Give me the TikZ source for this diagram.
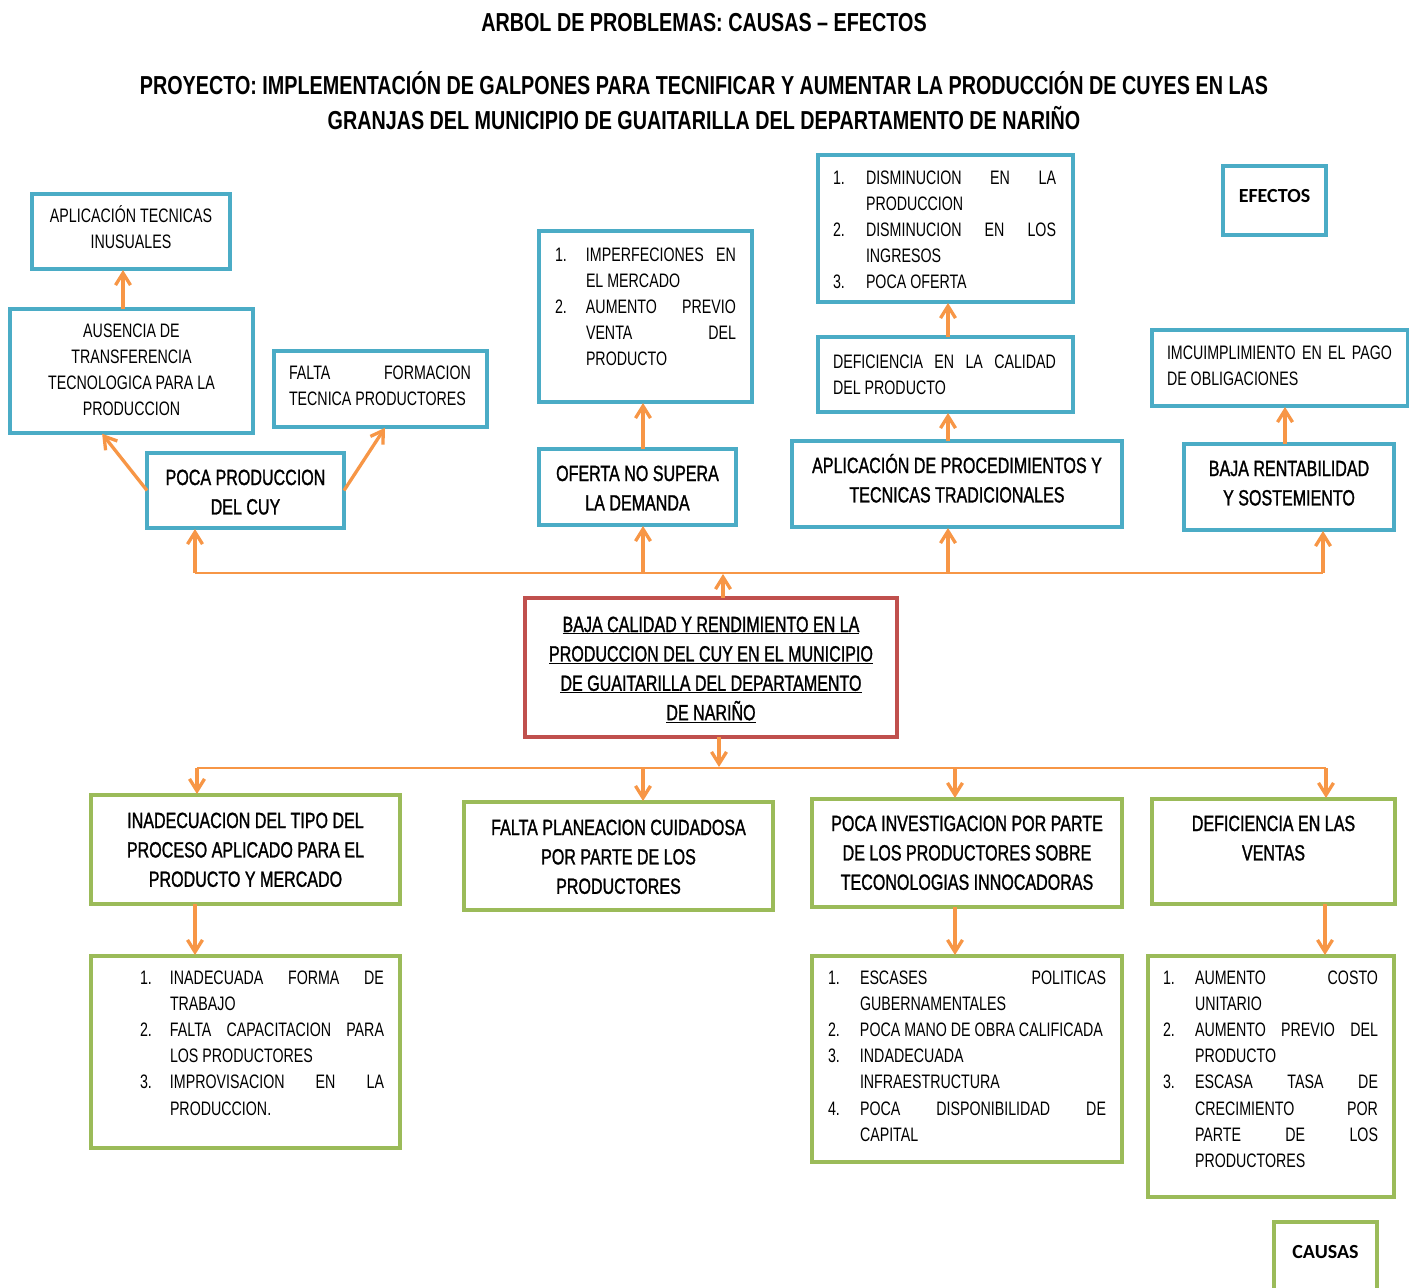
\documentclass[tikz,border=0pt]{standalone}
\usepackage{fontspec}
\setmainfont{Liberation Sans}[FakeStretch=0.73]
\newfontfamily\heavyf{Liberation Sans}[FakeStretch=0.73, FakeBold=1.2]
\newfontfamily\tf{Liberation Sans}[FakeStretch=0.76]
\newfontfamily\calfont{Carlito}
\usetikzlibrary{arrows.meta}
\definecolor{bl}{HTML}{4BACC6}
\definecolor{gr}{HTML}{9BBB59}
\definecolor{rd}{HTML}{C0504D}
\definecolor{orng}{HTML}{F79646}
\newlength\hangw
\newcommand\smf{\fontsize{19.5}{26.2}\selectfont}
\newcommand\mnf{\heavyf\fontsize{22}{29.4}\selectfont}
\newcommand\litem[2]{\par\noindent\hangindent=\hangw\hangafter=1\makebox[\hangw][l]{#1}#2\par}
% #1 style #2 name #3 x1 #4 y1 #5 x2 #6 y2 #7 left pad #8 right pad #9 content
\newcommand\bnode[9]{%
  \node[#1, anchor=north west, inner sep=0pt, outer sep=0pt,
        minimum width={(#5-#3)*1pt}, minimum height={(#6-#4)*1pt}] (#2) at (#3,#4)
  {\parbox[c][\dimexpr#6pt-#4pt\relax][t]{\dimexpr#5pt-#3pt\relax}{%
     \hspace*{#7pt}\parbox[t]{\dimexpr#5pt-#3pt-#7pt-#8pt\relax}{#9}}};}
\tikzset{
  bbox/.style={draw=bl, line width=3.5pt, fill=white},
  gbox/.style={draw=gr, line width=3.5pt, fill=white},
  rbox/.style={draw=rd, line width=3.5pt, fill=white},
  arr/.style={draw=orng, line width=3.3pt, -{Straight Barb[length=12pt,width=15pt]}, shorten >=1pt},
  bus/.style={draw=orng, line width=1.3pt},
  ttl/.style={font=\tf\fontsize{26}{35}\selectfont\bfseries, inner sep=0pt, anchor=base}
}
\begin{document}
\begin{tikzpicture}[x=1pt,y=-1pt]
\useasboundingbox (0,0) rectangle (1409,1288);
\fill[white] (0,0) rectangle (1409,1288);

% titles
\node[ttl] (title) at (704,31) {ARBOL DE PROBLEMAS: CAUSAS – EFECTOS};
\node[ttl] (proj1) at (704,94) {PROYECTO: IMPLEMENTACIÓN DE GALPONES PARA TECNIFICAR Y AUMENTAR LA PRODUCCIÓN DE CUYES EN LAS};
\node[ttl] (proj2) at (704,129) {GRANJAS DEL MUNICIPIO DE GUAITARILLA DEL DEPARTAMENTO DE NARIÑO};

% effects (blue)
\bnode{bbox}{aplic}{32}{194}{230}{269}{8}{8}{\smf\centering\rule{0pt}{28pt}APLICACIÓN TECNICAS\\INUSUALES}
\bnode{bbox}{ausen}{10}{309}{253}{433}{8}{8}{\smf\centering\rule{0pt}{28pt}AUSENCIA DE\\TRANSFERENCIA\\TECNOLOGICA PARA LA\\PRODUCCION}
\bnode{bbox}{falta}{274}{351}{487}{427}{15}{16}{\smf\rule{0pt}{28pt}FALTA FORMACION\linebreak TECNICA PRODUCTORES}
\bnode{bbox}{poca}{147}{453}{344}{528}{5}{5}{\mnf\centering\rule{0pt}{32pt}POCA PRODUCCION\\DEL CUY}
\bnode{bbox}{imperf}{539}{231}{752}{402}{16}{16}{\smf\setlength\hangw{31pt}%
  \litem{\rule{0pt}{30pt}1.}{IMPERFECIONES EN\linebreak EL MERCADO}%
  \litem{2.}{AUMENTO PREVIO\linebreak VENTA DEL\linebreak PRODUCTO}}
\bnode{bbox}{oferta}{539}{449}{736}{525}{5}{5}{\mnf\centering\rule{0pt}{32pt}OFERTA NO SUPERA\\LA DEMANDA}
\bnode{bbox}{dismin}{818}{155}{1073}{302}{15}{17}{\smf\setlength\hangw{33pt}%
  \litem{\rule{0pt}{29pt}1.}{DISMINUCION EN LA\linebreak PRODUCCION}%
  \litem{2.}{DISMINUCION EN LOS\linebreak INGRESOS}%
  \litem{3.}{POCA OFERTA}}
\bnode{bbox}{defcal}{818}{337}{1073}{412}{15}{17}{\smf\rule{0pt}{31pt}DEFICIENCIA EN LA CALIDAD\linebreak DEL PRODUCTO}
\bnode{bbox}{aplproc}{792}{441}{1122}{527}{5}{5}{\mnf\centering\rule{0pt}{32pt}APLICACIÓN DE PROCEDIMIENTOS Y\\TECNICAS TRADICIONALES}
\bnode{bbox}{efectos}{1223}{166}{1326}{235}{0}{0}{\calfont\fontsize{20}{24}\selectfont\bfseries\centering\rule{0pt}{36pt}EFECTOS}
\bnode{bbox}{incump}{1152}{330}{1408}{406}{15}{16}{\smf\rule{0pt}{29pt}IMCUIMPLIMIENTO EN EL PAGO\linebreak DE OBLIGACIONES}
\bnode{bbox}{bajar}{1184}{444}{1394}{530}{5}{5}{\mnf\centering\rule{0pt}{32pt}BAJA RENTABILIDAD\\Y SOSTEMIENTO}

% central problem (red)
\bnode{rbox}{prob}{525}{598}{897}{737}{5}{5}{\mnf\centering\rule{0pt}{34pt}%
  \underline{BAJA CALIDAD Y RENDIMIENTO EN LA}\\
  \underline{PRODUCCION DEL CUY EN EL MUNICIPIO}\\
  \underline{DE GUAITARILLA DEL DEPARTAMENTO}\\
  \underline{DE NARIÑO}}

% causes (green)
\bnode{gbox}{inad}{91}{795}{400}{904}{5}{5}{\mnf\centering\rule{0pt}{33pt}INADECUACION DEL TIPO DEL\\PROCESO APLICADO PARA EL\\PRODUCTO Y MERCADO}
\bnode{gbox}{plan}{464}{802}{773}{910}{5}{5}{\mnf\centering\rule{0pt}{33pt}FALTA PLANEACION CUIDADOSA\\POR PARTE DE LOS\\PRODUCTORES}
\bnode{gbox}{inv}{812}{799}{1122}{907}{5}{5}{\mnf\centering\rule{0pt}{32pt}POCA INVESTIGACION POR PARTE\\DE LOS PRODUCTORES SOBRE\\TECONOLOGIAS INNOCADORAS}
\bnode{gbox}{vent}{1152}{799}{1395}{904}{5}{5}{\mnf\centering\rule{0pt}{32pt}DEFICIENCIA EN LAS\\VENTAS}
\bnode{gbox}{lsta}{91}{956}{400}{1148}{49}{16}{\smf\setlength\hangw{30pt}%
  \litem{\rule{0pt}{28pt}1.}{INADECUADA FORMA DE\linebreak TRABAJO}%
  \litem{2.}{FALTA CAPACITACION PARA\linebreak LOS PRODUCTORES}%
  \litem{3.}{IMPROVISACION EN LA\linebreak PRODUCCION.}}
\bnode{gbox}{lstb}{812}{956}{1122}{1162}{16}{16}{\smf\setlength\hangw{32pt}%
  \litem{\rule{0pt}{28pt}1.}{ESCASES POLITICAS\linebreak GUBERNAMENTALES}%
  \litem{2.}{POCA MANO DE OBRA CALIFICADA}%
  \litem{3.}{INDADECUADA\\INFRAESTRUCTURA}%
  \litem{4.}{POCA DISPONIBILIDAD DE\linebreak CAPITAL}}
\bnode{gbox}{lstc}{1148}{956}{1394}{1197}{15}{16}{\smf\setlength\hangw{32pt}%
  \litem{\rule{0pt}{28pt}1.}{AUMENTO COSTO\linebreak UNITARIO}%
  \litem{2.}{AUMENTO PREVIO DEL\linebreak PRODUCTO}%
  \litem{3.}{ESCASA TASA DE\linebreak CRECIMIENTO POR\linebreak PARTE DE LOS\linebreak PRODUCTORES}}
\bnode{gbox}{causas}{1274}{1222}{1377}{1300}{0}{0}{\calfont\fontsize{20}{24}\selectfont\bfseries\centering\rule{0pt}{36pt}CAUSAS}

% column coordinates
\coordinate (xa) at (123,0);
\coordinate (xb) at (643,0);
\coordinate (xc) at (948,0);
\coordinate (xd) at (1285,0);
\coordinate (xe) at (195,0);
\coordinate (xf) at (955,0);
\coordinate (xg) at (1325,0);

% effect arrows
\draw[arr] (ausen.north -| xa) -- (aplic.south -| xa);
\draw[arr] (poca.west) -- ([xshift=-30pt]ausen.south);
\draw[arr] (poca.east) -- ([xshift=5pt]falta.south);
\draw[arr] (oferta.north -| xb) -- (imperf.south -| xb);
\draw[arr] (aplproc.north -| xc) -- (defcal.south -| xc);
\draw[arr] (defcal.north -| xc) -- (dismin.south -| xc);
\draw[arr] (bajar.north -| xd) -- (incump.south -| xd);

% top bus
\coordinate (t0) at (723,573);
\coordinate (t1) at (195,573);
\coordinate (t2) at (643,573);
\coordinate (t3) at (948,573);
\coordinate (t4) at (1323,573);
\draw[bus] (t1) -- (t4);
\draw[arr] (prob.north -| t0) -- (t0);
\draw[arr] (t1) -- (t1 |- poca.south);
\draw[arr] (t2) -- (t2 |- oferta.south);
\draw[arr] (t3) -- (t3 |- aplproc.south);
\draw[arr] (t4) -- (t4 |- bajar.south);

% bottom bus
\coordinate (b0) at (719,768);
\coordinate (b1) at (197,768);
\coordinate (b2) at (643,768);
\coordinate (b3) at (955,768);
\coordinate (b4) at (1326,768);
\draw[bus] (b1) -- (b4);
\draw[arr] (prob.south -| b0) -- (b0);
\draw[arr] (b1) -- (b1 |- inad.north);
\draw[arr] (b2) -- (b2 |- plan.north);
\draw[arr] (b3) -- (b3 |- inv.north);
\draw[arr] (b4) -- (b4 |- vent.north);

% cause detail arrows
\draw[arr] (inad.south -| xe) -- (lsta.north -| xe);
\draw[arr] (inv.south -| xf) -- (lstb.north -| xf);
\draw[arr] (vent.south -| xg) -- (lstc.north -| xg);
\end{tikzpicture}
\end{document}
